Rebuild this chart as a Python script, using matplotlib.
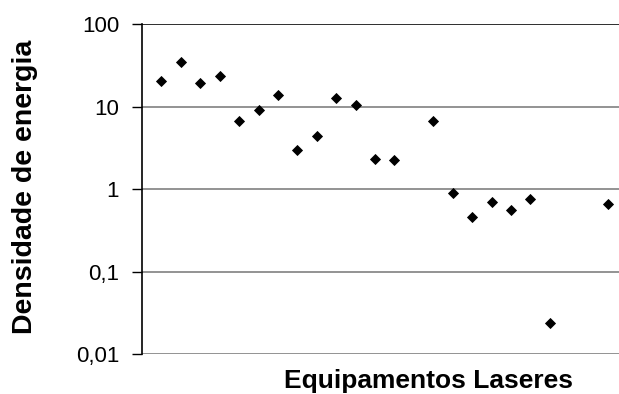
import numpy as np
import matplotlib.pyplot as plt
from matplotlib.ticker import FixedLocator, FixedFormatter, NullLocator

plt.rcParams['font.family'] = ['Liberation Sans', 'DejaVu Sans']

# ── Dados ─────────────────────────────────────────────────────────────────────
equip = [1, 2, 3, 4, 5, 6, 7, 8, 9, 10, 11, 12, 13,
         15, 16, 17, 18, 19, 20, 21, 24]
densidade = [20.4, 34.9, 19.4, 23.4, 6.65, 9.0, 13.8, 2.95, 4.45, 12.7, 10.4,
             2.33, 2.23, 6.65, 0.91, 0.46, 0.69, 0.556, 0.76, 0.0236, 0.66]

y_ticks = [0.01, 0.1, 1, 10, 100]
y_tick_labels = ['0,01', '0,1', '1', '10', '100']

# ── Wykres ────────────────────────────────────────────────────────────────────
fig = plt.figure(figsize=(6.19, 3.94), dpi=100)
ax = fig.add_axes([142 / 619, 1 - 354 / 394, 1 - 142 / 619, (354 - 24.3) / 394])

ax.set_yscale('log')
ax.set_ylim(0.01, 100)
ax.set_xlim(0, 24.56)

for v in y_ticks:
    ax.axhline(v, color='#808080', lw=1.2, zorder=1)
ax.axhline(100, color='#202020', lw=1.2, zorder=1)

ax.plot(equip, densidade, ls='none', marker='D', ms=5.2, color='black',
        mec='black', mew=0.6, zorder=3, clip_on=False)

ax.yaxis.set_major_locator(FixedLocator(y_ticks))
ax.yaxis.set_major_formatter(FixedFormatter(y_tick_labels))
ax.yaxis.set_minor_locator(NullLocator())
ax.xaxis.set_major_locator(NullLocator())
ax.tick_params(axis='y', direction='out', length=7.5, width=1, labelsize=16, pad=9)

for s in ['top', 'right', 'bottom']:
    ax.spines[s].set_visible(False)
ax.spines['left'].set_linewidth(1.2)

fig.text(428 / 619, 1 - 381 / 394, 'Equipamentos Laseres', ha='center',
         va='center', fontsize=19, fontweight='bold')
fig.text(25 / 619, 1 - 187 / 394, 'Densidade de energia', ha='center',
         va='center', rotation=90, fontsize=20.5, fontweight='bold')

fig.savefig('out.png', dpi=100)
